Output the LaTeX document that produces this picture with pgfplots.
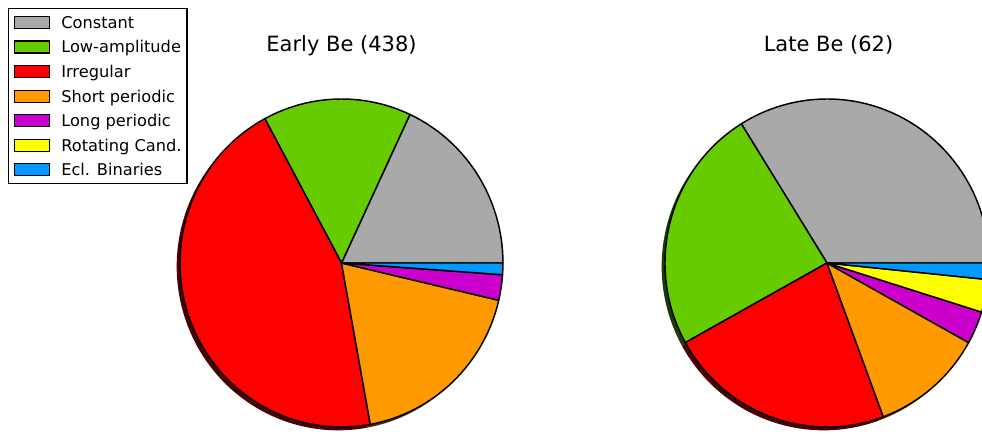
\documentclass[border=0pt]{standalone}
\usepackage{fontspec}
\setmainfont{DejaVu Sans}
\usepackage{pgfplots}
\pgfplotsset{compat=1.18}

\definecolor{cConst}{RGB}{169,169,169}
\definecolor{cLow}{RGB}{102,204,0}
\definecolor{cIrr}{RGB}{255,0,0}
\definecolor{cShort}{RGB}{255,153,0}
\definecolor{cLong}{RGB}{204,0,204}
\definecolor{cRot}{RGB}{255,255,0}
\definecolor{cEcl}{RGB}{0,153,255}

% counts per class (order: Constant, Low-amp., Irregular, Short, Long, Rotating, Ecl.)
\def\earlydata{79/cConst, 65/cLow, 197/cIrr, 81/cShort, 11/cLong, 0/cRot, 5/cEcl}
\def\latedata{21/cConst, 15/cLow, 14/cIrr, 7/cShort, 2/cLong, 2/cRot, 1/cEcl}

% #1 data, #2 total, #3 cx, #4 cy (axis units), #5 rx, #6 ry, #7 shadow? (1/0)
\newcommand\piewedges[7]{%
  \gdef\cum{0}%
  \foreach \pn/\pcol in #1 {%
    \ifnum\pn>0
    \pgfmathsetmacro\sa{\cum/#2*360}%
    \pgfmathsetmacro\ea{(\cum+\pn)/#2*360}%
    \ifnum#7=1
      \fill[\pcol!30!black] (axis cs:#3,#4) ++(-2.5pt,-2.5pt) -- ++(\sa:#5 and #6)
        arc[start angle=\sa, end angle=\ea, x radius=#5, y radius=#6] -- cycle;
    \else
      \filldraw[fill=\pcol, draw=black, line width=1.1pt, line join=round]
        (axis cs:#3,#4) -- ++(\sa:#5 and #6)
        arc[start angle=\sa, end angle=\ea, x radius=#5, y radius=#6] -- cycle;
    \fi
    \pgfmathsetmacro\tmp{\cum+\pn}\global\let\cum\tmp
    \fi
  }%
}

\begin{document}
\begin{tikzpicture}
\begin{axis}[
    at={(0,0)}, anchor=south west,
    scale only axis, width=736.5pt, height=325.5pt,
    xmin=0, xmax=982, ymin=0, ymax=434,
    hide axis, clip=true,
    legend image code/.code={\draw[#1] (0pt,-4.5pt) rectangle (26.25pt,4.5pt);},
    legend cell align=left,
    legend style={at={(axis cs:8,426)}, anchor=north west,
        draw=black, line width=1.1pt, fill=white,
        inner xsep=4pt, inner ysep=5.4pt,
        row sep=8.6pt, column sep=8.4pt,
        nodes={inner sep=0pt, text height=9pt, text depth=0pt,
               font=\fontsize{12.15}{14}\selectfont}},
]
\addlegendimage{fill=cConst, draw=black, line width=0.8pt}\addlegendentry{Constant}
\addlegendimage{fill=cLow, draw=black, line width=0.8pt}\addlegendentry{Low-amplitude}
\addlegendimage{fill=cIrr, draw=black, line width=0.8pt}\addlegendentry{Irregular}
\addlegendimage{fill=cShort, draw=black, line width=0.8pt}\addlegendentry{Short periodic}
\addlegendimage{fill=cLong, draw=black, line width=0.8pt}\addlegendentry{Long periodic}
\addlegendimage{fill=cRot, draw=black, line width=0.8pt}\addlegendentry{Rotating Cand.}
\addlegendimage{fill=cEcl, draw=black, line width=0.8pt}\addlegendentry{Ecl. Binaries}

\pgfplotsextra{%
  \piewedges{\earlydata}{438}{341.5}{171}{121.1pt}{123pt}{1}%
  \piewedges{\latedata}{62}{827}{171}{121.5pt}{123pt}{1}%
  \piewedges{\earlydata}{438}{341.5}{171}{121.1pt}{123pt}{0}%
  \piewedges{\latedata}{62}{827}{171}{121.5pt}{123pt}{0}%
  \node[anchor=base, font=\fontsize{15.75}{19}\selectfont] at (axis cs:341.5,382.5) {Early Be (438)};
  \node[anchor=base, font=\fontsize{15.75}{19}\selectfont] at (axis cs:828.5,382.5) {Late Be (62)};
}
\end{axis}
\pgfresetboundingbox
\path (0,0) rectangle (736.5pt,325.5pt);
\end{tikzpicture}
\end{document}
